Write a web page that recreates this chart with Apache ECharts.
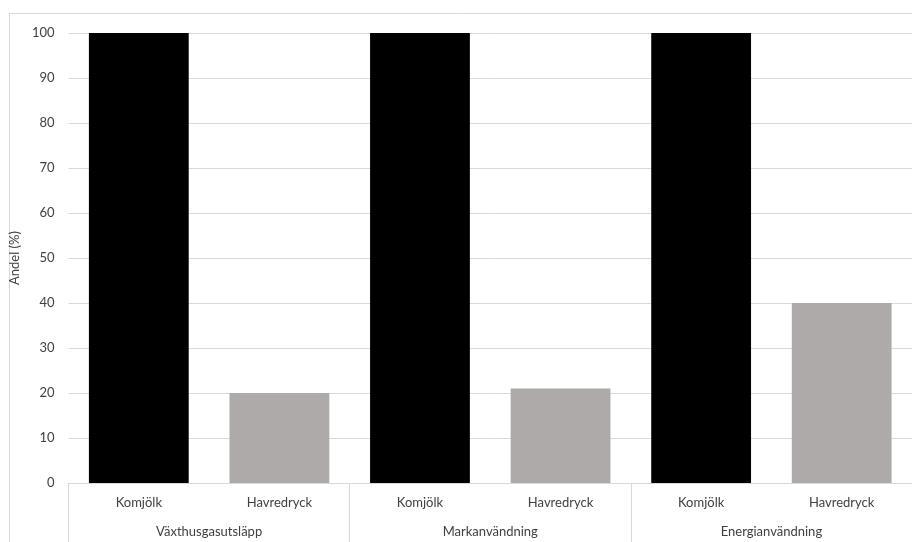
<!DOCTYPE html>
<html>
<head>
<meta charset="utf-8">
<script src="https://cdn.jsdelivr.net/npm/echarts@6/dist/echarts.min.js"></script>
<style>
  html, body { margin: 0; padding: 0; background: #fff; }
  #chart { width: 912px; height: 542px; }
</style>
</head>
<body>
<div id="chart"></div>
<script>
// Products shown inside every impact group
const products = ['Komjölk', 'Havredryck'];
// Impact groups along the bottom
const groups = ['Växthusgasutsläpp', 'Markanvändning', 'Energianvändning'];
// Share (%) per product within each group
const komjolkValues = [100, 100, 100];
const havredryckValues = [20, 21, 40];
// Y-axis ticks
const yMin = 0, yMax = 100, yStep = 10;

const productColors = { 'Komjölk': '#000000', 'Havredryck': '#AEAAAA' };
const valuesByProduct = { 'Komjölk': komjolkValues, 'Havredryck': havredryckValues };

// Flatten groups × products into one category axis
const categories = [];
const barData = [];
groups.forEach((g, gi) => {
  products.forEach(p => {
    categories.push(p);
    barData.push({ value: valuesByProduct[p][gi], itemStyle: { color: productColors[p] } });
  });
});

const font = 'Lato, "Open Sans", sans-serif';
const textColor = '#404040';
const lineColor = '#D9D9D9';
const fs = 13;

const chart = echarts.init(document.getElementById('chart'), null, { renderer: 'canvas' });
chart.setOption({
  animation: false,
  backgroundColor: '#ffffff',
  textStyle: { fontFamily: font },
  grid: { left: 66, top: 33, width: 849, height: 450, containLabel: false },
  graphic: [{
    type: 'rect',
    shape: { x: 9.5, y: 13.5, width: 920, height: 560 },
    style: { fill: 'none', stroke: lineColor, lineWidth: 1 },
    silent: true,
    z: -10
  }],
  xAxis: [{
    type: 'category',
    data: categories,
    position: 'bottom',
    axisLine: { show: true, lineStyle: { color: lineColor, width: 1 } },
    axisTick: { show: false },
    axisLabel: { color: textColor, fontSize: fs, fontFamily: font, margin: 13, interval: 0 },
    splitLine: { show: false }
  }, {
    type: 'category',
    data: groups,
    position: 'bottom',
    gridIndex: 0,
    axisLine: { show: false },
    axisTick: { show: true, length: 70, alignWithLabel: false, interval: 0, lineStyle: { color: lineColor, width: 1 } },
    axisLabel: { color: textColor, fontSize: fs, fontFamily: font, margin: 42, interval: 0 },
    splitLine: { show: false }
  }],
  yAxis: {
    type: 'value',
    min: yMin, max: yMax, interval: yStep,
    name: 'Andel (%)',
    nameLocation: 'middle',
    nameRotate: 90,
    nameGap: 40,
    nameTextStyle: { color: textColor, fontSize: fs, fontFamily: font },
    axisLine: { show: false },
    axisTick: { show: false },
    axisLabel: { color: textColor, fontSize: fs, fontFamily: font, margin: 14 },
    splitLine: { show: true, lineStyle: { color: lineColor, width: 1 } }
  },
  series: [{
    type: 'bar',
    xAxisIndex: 0,
    data: barData,
    barCategoryGap: '29%',
    itemStyle: { borderWidth: 0 }
  }]
});
</script>
</body>
</html>
